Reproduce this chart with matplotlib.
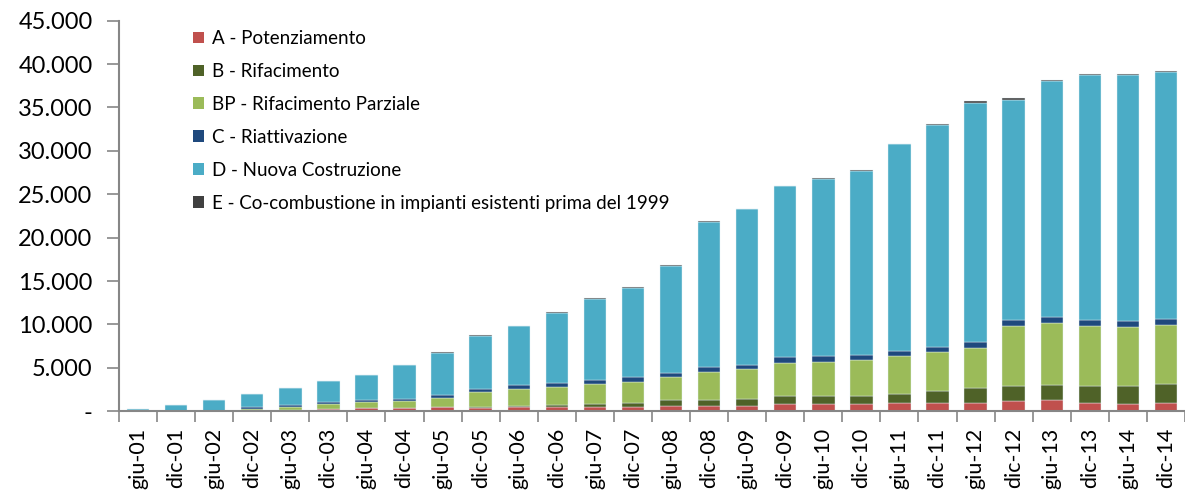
import matplotlib
matplotlib.use("Agg")
import matplotlib.pyplot as plt
import numpy as np
from matplotlib.ticker import FuncFormatter, FixedLocator
from matplotlib.patches import Patch

plt.rcParams['font.family'] = ['Lato', 'DejaVu Sans']

categories = ["giu-01", "dic-01", "giu-02", "dic-02", "giu-03", "dic-03", "giu-04", "dic-04",
              "giu-05", "dic-05", "giu-06", "dic-06", "giu-07", "dic-07", "giu-08", "dic-08",
              "giu-09", "dic-09", "giu-10", "dic-10", "giu-11", "dic-11", "giu-12", "dic-12",
              "giu-13", "dic-13", "giu-14", "dic-14"]

a_potenziamento = [0, 0, 0, 20, 150, 270, 380, 380, 460, 420, 540, 540, 540, 540,
                   580, 580, 580, 810, 810, 810, 1000, 1000, 1000, 1190, 1270, 1000, 880, 1000]
b_rifacimento = [0, 0, 0, 10, 10, 10, 10, 10, 20, 20, 60, 190, 270, 460,
                 690, 690, 810, 920, 920, 1000, 1000, 1300, 1650, 1770, 1770, 1960, 2000, 2110]
bp_rifacimento_parziale = [0, 0, 20, 250, 350, 540, 650, 770, 1100, 1770, 1960, 2030, 2380, 2420,
                           2650, 3300, 3460, 3880, 4000, 4110, 4340, 4490, 4610, 6910, 7100, 6870, 6840, 6870]
c_riattivazione = [0, 0, 0, 230, 230, 200, 230, 230, 310, 380, 420, 460, 420, 500,
                   500, 500, 500, 650, 630, 610, 610, 610, 690, 690, 730, 650, 650, 610]
d_nuova_costruzione = [250, 680, 1250, 1430, 1890, 2420, 2900, 3900, 4880, 6100, 6800, 8100, 9300, 10330,
                       12330, 16730, 17900, 19640, 20390, 21170, 23800, 25600, 27600, 25340, 27180, 28220, 28330, 28460]
e_cocombustione = [0, 10, 0, 30, 50, 60, 60, 60, 60, 80, 80, 80, 90, 100,
                   100, 100, 100, 100, 100, 100, 100, 150, 150, 150, 150, 150, 150, 150]

series_names = ["A - Potenziamento", "B - Rifacimento", "BP - Rifacimento Parziale",
                "C - Riattivazione", "D - Nuova Costruzione",
                "E - Co-combustione in impianti esistenti prima del 1999"]
series_values = [a_potenziamento, b_rifacimento, bp_rifacimento_parziale,
                 c_riattivazione, d_nuova_costruzione, e_cocombustione]
colors = ["#C0504D", "#4F6228", "#9BBB59", "#1F497D", "#4BACC6", "#404040"]

fig = plt.figure(figsize=(11.85, 4.96), dpi=100)
ax = fig.add_axes([0.1004, 0.1708, 0.8996, 0.7875])

x = np.arange(len(categories))
bottom = np.zeros(len(categories))
for name, vals, col in zip(series_names, series_values, colors):
    v = np.array(vals, dtype=float)
    ax.bar(x, v, bottom=bottom, width=0.59, color=col, edgecolor='#e6f2f6',
           linewidth=0.3, label=name, zorder=2)
    bottom += v

ax.set_xlim(-0.5, len(categories) - 0.5)
ax.set_ylim(0, 45000)
ax.set_yticks(np.arange(0, 45001, 5000))

def fmt(v, pos):
    if v == 0:
        return "-"
    return f"{int(v):,}".replace(",", ".")
ax.yaxis.set_major_formatter(FuncFormatter(fmt))

ax.set_xticks(x)
ax.set_xticklabels(categories, rotation=90, fontsize=15.5)
ax.tick_params(axis='x', which='major', length=0, pad=12)
ax.xaxis.set_minor_locator(FixedLocator(np.arange(-0.5, len(categories), 1.0)))
ax.tick_params(axis='x', which='minor', length=8, width=1.2, color='#868686')
ax.tick_params(axis='y', length=9, width=1.2, color='#868686', labelsize=17, pad=10)

for s in ['top', 'right']:
    ax.spines[s].set_visible(False)
for s in ['left', 'bottom']:
    ax.spines[s].set_color('#868686')
    ax.spines[s].set_linewidth(1.5)

handles = [Patch(facecolor=c, edgecolor='none') for c in colors]
ax.legend(handles, series_names, loc='upper left', bbox_to_anchor=(0.062, 0.995),
          frameon=False, fontsize=13.5, handlelength=0.6, handleheight=0.6,
          handletextpad=0.45, labelspacing=0.85, borderaxespad=0.0)

fig.savefig("out.png", dpi=100)
